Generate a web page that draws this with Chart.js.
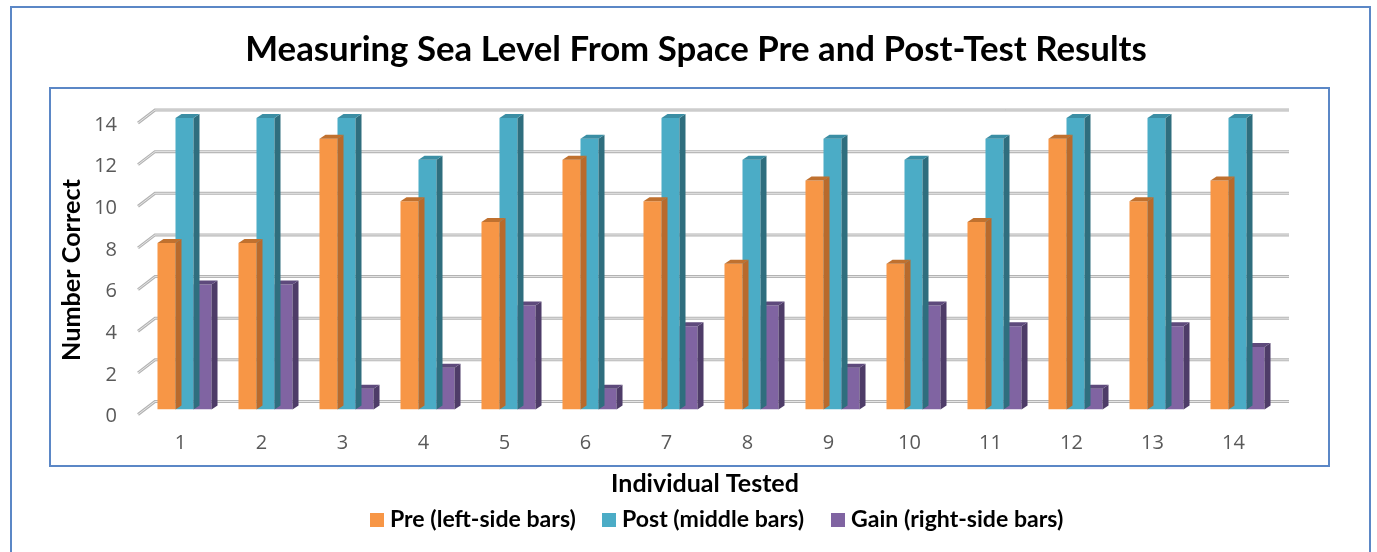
<!DOCTYPE html>
<html>
<head>
<meta charset="utf-8">
<title>Measuring Sea Level From Space Pre and Post-Test Results</title>
<script src="https://cdn.jsdelivr.net/npm/chart.js@4.4.1/dist/chart.umd.min.js"></script>
<style>
  html, body { margin: 0; padding: 0; background: #ffffff; overflow: hidden; }
  canvas { display: block; }
</style>
</head>
<body>
<canvas id="chart" width="1377" height="552"></canvas>
<script>
// ---- data ----
const individuals = ['1', '2', '3', '4', '5', '6', '7', '8', '9', '10', '11', '12', '13', '14'];
const preScores  = [8, 8, 13, 10, 9, 12, 10, 7, 11, 7, 9, 13, 10, 11];
const postScores = [14, 14, 14, 12, 14, 13, 14, 12, 13, 12, 13, 14, 14, 14];
const gainScores = [6, 6, 1, 2, 5, 1, 4, 5, 2, 5, 4, 1, 4, 3];
const yTickValues = [0, 2, 4, 6, 8, 10, 12, 14];
const seriesNames = ['Pre (left-side bars)', 'Post (middle bars)', 'Gain (right-side bars)'];
const chartTitle = 'Measuring Sea Level From Space Pre and Post-Test Results';
const yAxisTitle = 'Number Correct';
const xAxisTitle = 'Individual Tested';

// ---- styling ----
const FONT = 'Open Sans';
const TITLE_FONT = 'Lato';
const faceColors = ['#F79646', '#4BACC6', '#8064A2'];
const sideColors = ['#B86A2C', '#2F6E7E', '#4E3C68'];
const topColors  = ['#C0712F', '#3B8EA4', '#5E4A7C'];
const FRAME = '#5B87C6';
const DEPTH_X = 6, DEPTH_Y = -4;          // bar extrusion
const WALL_X = 11, WALL_Y = -8;           // back wall offset of grid lines
const FLOOR_X = -6, FLOOR_Y = 5;          // front edge of the floor

function fitSize(ctx, text, weight, targetWidth) {
  ctx.font = `${weight} 100px "${TITLE_FONT}"`;
  return 100 * targetWidth / ctx.measureText(text).width;
}

// grid lines drawn on the back wall with a short diagonal on the floor side
const wallGrid = {
  id: 'wallGrid',
  beforeDatasetsDraw(chart) {
    const { ctx, chartArea } = chart;
    const ys = chart.scales.y;
    ctx.save();
    ys.ticks.forEach(t => {
      const y = ys.getPixelForValue(t.value);
      const path = () => {
        ctx.beginPath();
        ctx.moveTo(chartArea.left + FLOOR_X, y + FLOOR_Y);
        ctx.lineTo(chartArea.left + WALL_X, y + WALL_Y);
        ctx.lineTo(chartArea.right + WALL_X, y + WALL_Y);
      };
      path(); ctx.strokeStyle = '#B3B3B3'; ctx.lineWidth = 3; ctx.stroke();
      path(); ctx.strokeStyle = '#E6E6E6'; ctx.lineWidth = 1; ctx.stroke();
    });
    ctx.restore();
  }
};

// side and top faces for each bar, drawn right after its dataset
const barDepth = {
  id: 'barDepth',
  afterDatasetDraw(chart, args) {
    const ctx = chart.ctx;
    const i = args.index;
    ctx.save();
    args.meta.data.forEach(bar => {
      const { x, y, base, width } = bar.getProps(['x', 'y', 'base', 'width'], true);
      const l = x - width / 2, r = x + width / 2;
      ctx.fillStyle = sideColors[i];
      ctx.beginPath();
      ctx.moveTo(r, y);
      ctx.lineTo(r + DEPTH_X, y + DEPTH_Y);
      ctx.lineTo(r + DEPTH_X, base + DEPTH_Y);
      ctx.lineTo(r, base);
      ctx.closePath();
      ctx.fill();
      ctx.fillStyle = topColors[i];
      ctx.beginPath();
      ctx.moveTo(l, y);
      ctx.lineTo(l + DEPTH_X, y + DEPTH_Y);
      ctx.lineTo(r + DEPTH_X, y + DEPTH_Y);
      ctx.lineTo(r, y);
      ctx.closePath();
      ctx.fill();
    });
    ctx.restore();
  }
};

// frames, titles and legend
const decorations = {
  id: 'decorations',
  afterDraw(chart) {
    const ctx = chart.ctx;
    ctx.save();
    // outer and inner frames
    ctx.strokeStyle = FRAME;
    ctx.lineWidth = 2;
    ctx.strokeRect(11, 7, 1359, 560);
    ctx.strokeRect(50, 88, 1279, 378);

    ctx.fillStyle = '#000000';
    ctx.textBaseline = 'alphabetic';

    // chart title
    let s = fitSize(ctx, chartTitle, 'bold', 902);
    ctx.font = `bold ${s}px "${TITLE_FONT}"`;
    ctx.textAlign = 'center';
    ctx.fillText(chartTitle, 696, 61);

    // x axis title
    s = fitSize(ctx, xAxisTitle, 'bold', 188);
    ctx.font = `bold ${s}px "${TITLE_FONT}"`;
    ctx.fillText(xAxisTitle, 705, 492);

    // y axis title
    s = fitSize(ctx, yAxisTitle, 'bold', 182);
    ctx.font = `bold ${s}px "${TITLE_FONT}"`;
    ctx.save();
    ctx.translate(80, 270);
    ctx.rotate(-Math.PI / 2);
    ctx.fillText(yAxisTitle, 0, 0);
    ctx.restore();

    // legend
    s = fitSize(ctx, seriesNames[0], 'bold', 186);
    ctx.font = `bold ${s}px "${TITLE_FONT}"`;
    ctx.textAlign = 'left';
    const legendX = [370, 602, 831];
    chart.data.datasets.forEach((ds, i) => {
      ctx.fillStyle = ds.backgroundColor;
      ctx.fillRect(legendX[i], 513, 14, 14);
      ctx.fillStyle = '#000000';
      ctx.fillText(ds.label, legendX[i] + 20, 527);
    });
    ctx.restore();
  }
};

const datasets = [preScores, postScores, gainScores].map((values, i) => ({
  label: seriesNames[i],
  data: values,
  backgroundColor: faceColors[i],
  borderWidth: 0,
  categoryPercentage: 0.667,
  barPercentage: 1.0
}));

new Chart(document.getElementById('chart'), {
  type: 'bar',
  data: { labels: individuals, datasets },
  options: {
    responsive: false,
    animation: false,
    events: [],
    layout: { padding: { left: 0, top: 118, right: 99, bottom: 0 } },
    plugins: {
      legend: { display: false },
      title: { display: false },
      tooltip: { enabled: false }
    },
    scales: {
      x: {
        grid: { display: false, drawTicks: false },
        border: { display: false },
        ticks: {
          color: '#595959',
          font: { family: FONT, size: 20 },
          padding: 22,
          labelOffset: -4,
          maxRotation: 0
        },
        afterFit(scale) { scale.height = 142.5; }
      },
      y: {
        min: 0,
        max: 14,
        grid: { display: false, drawTicks: false },
        border: { display: false },
        afterBuildTicks(scale) { scale.ticks = yTickValues.map(v => ({ value: v })); },
        ticks: {
          color: '#595959',
          font: { family: FONT, size: 20 },
          padding: 27,
          labelOffset: 7
        },
        afterFit(scale) { scale.width = 144; }
      }
    }
  },
  plugins: [wallGrid, barDepth, decorations]
});
</script>
</body>
</html>
